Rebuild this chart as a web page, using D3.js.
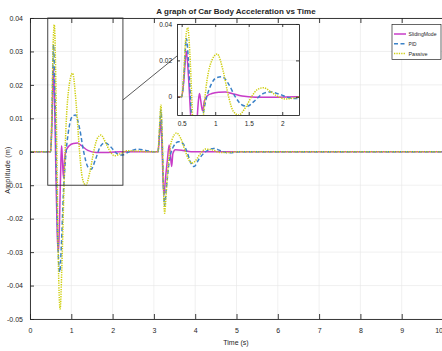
<!DOCTYPE html>
<html><head><meta charset="utf-8">
<script src="https://cdn.jsdelivr.net/npm/d3@7"></script>
<style>
html,body{margin:0;padding:0;background:#fff;overflow:hidden}
text{font-family:"Liberation Sans Narrow","Liberation Sans",Arial,sans-serif;fill:#262626}
</style></head><body>
<svg id="c" width="442" height="351"></svg>
<script>
// ---------- data ----------
const seriesNames = ["SlidingMode", "PID", "Passive"];
const xTicks = [0,1,2,3,4,5,6,7,8,9,10];
const yTicks = [0.04,0.03,0.02,0.01,0,-0.01,-0.02,-0.03,-0.04,-0.05];
const yTickLabels = ["0.04","0.03","0.02","0.01","0","-0.01","-0.02","-0.03","-0.04","-0.05"];
const insetXTicks = [0.5,1,1.5,2];
const insetXLabels = ["0.5","1","1.5","2"];
const insetYTicks = [0,0.02,0.04];
const insetYLabels = ["0","0.02","0.04"];

const slidingT = [0,0.5,0.53,0.57,0.6,0.63,0.66,0.69,0.72,0.75,0.765,0.78,0.81,0.84,0.88,0.95,1.05,1.15,1.25,1.4,1.6,1.9,2.2,3.1,3.13,3.17,3.2,3.24,3.28,3.33,3.37,3.4,3.43,3.46,3.52,3.7,3.9,10];
const slidingV = [0,0,0.008,0.025,0.012,-0.008,-0.025,-0.030,-0.018,-0.002,0.0018,-0.001,-0.0077,-0.002,0.0005,0.0018,0.0025,0.0026,0.0018,0.0004,-0.0002,-0.0002,0,0,0.004,0.0095,0.0,-0.013,-0.008,-0.002,0.002,-0.001,-0.0044,-0.0005,0.0006,0.0004,0,0];

const pidT = [0,0.5,0.53,0.57,0.6,0.63,0.67,0.72,0.76,0.81,0.86,0.93,1.02,1.1,1.2,1.3,1.4,1.48,1.58,1.7,1.82,1.95,2.1,2.22,2.4,2.6,2.8,3.0,3.1,3.13,3.17,3.2,3.23,3.26,3.3,3.37,3.47,3.6,3.7,3.8,3.9,3.97,4.1,4.25,4.45,4.6,4.8,5.1,10];
const pidV = [0,0,0.01,0.032,0.02,0.0,-0.025,-0.036,-0.028,-0.012,-0.002,0.006,0.0105,0.011,0.007,0.0,-0.0045,-0.0052,-0.0025,0.0015,0.0027,0.0015,-0.0005,-0.001,0.0,0.0008,0.0004,0.0,0,0.005,0.0125,0.004,-0.010,-0.016,-0.011,-0.003,0.0015,0.003,0.0025,0.0,-0.0035,-0.0044,-0.002,0.0,0.001,0.0004,-0.0003,0,0];

const passiveT = [0,0.5,0.53,0.56,0.59,0.62,0.65,0.69,0.73,0.77,0.82,0.86,0.93,1.03,1.12,1.2,1.27,1.35,1.45,1.55,1.63,1.72,1.82,1.92,2.05,2.2,2.35,2.6,2.9,3.1,3.13,3.17,3.2,3.23,3.26,3.3,3.36,3.45,3.55,3.65,3.75,3.85,3.92,4.0,4.1,4.25,4.4,4.6,4.8,5.0,10];
const passiveV = [0,0,0.012,0.032,0.038,0.025,0.0,-0.035,-0.047,-0.035,-0.012,0.004,0.018,0.0235,0.014,0.0,-0.008,-0.010,-0.006,0.0005,0.004,0.005,0.003,0.0005,-0.0012,-0.0005,0.0003,0.0002,0,0,0.006,0.014,0.005,-0.010,-0.0184,-0.012,-0.002,0.004,0.0056,0.004,0.0005,-0.0025,-0.0034,-0.0028,-0.001,0.0008,0.0006,-0.0002,-0.0002,0,0];

const series = [
  {name:"SlidingMode", t:slidingT, v:slidingV, color:"#C83CC8", dash:null, w:1.5},
  {name:"PID", t:pidT, v:pidV, color:"#3B82C8", dash:"4,2.5", w:1.5},
  {name:"Passive", t:passiveT, v:passiveV, color:"#CFCF10", dash:"1.3,1.1", w:1.5}
];

// ---------- main axes ----------
const svg = d3.select("#c");
const M = {l:30, r:443, t:18, b:319};
const x = d3.scaleLinear().domain([0,10]).range([M.l,M.r]);
const y = d3.scaleLinear().domain([-0.05,0.04]).range([M.b,M.t]);
const axisCol = "#262626", gridCol = "#e6e6e6";

svg.append("defs").append("clipPath").attr("id","mclip")
  .append("rect").attr("x",M.l).attr("y",M.t).attr("width",M.r-M.l).attr("height",M.b-M.t);

const g = svg.append("g");
g.selectAll(".vg").data(xTicks).join("line")
  .attr("x1",d=>x(d)).attr("x2",d=>x(d)).attr("y1",M.t).attr("y2",M.b)
  .attr("stroke",gridCol).attr("stroke-width",0.6);
g.selectAll(".hg").data(yTicks).join("line")
  .attr("y1",d=>y(d)).attr("y2",d=>y(d)).attr("x1",M.l).attr("x2",M.r)
  .attr("stroke",gridCol).attr("stroke-width",0.6);

const line = (xs,ys)=>d3.line().x(d=>xs(d[0])).y(d=>ys(d[1])).curve(d3.curveMonotoneX);

const lines = svg.append("g").attr("clip-path","url(#mclip)");
series.forEach(s=>{
  const pts = s.t.map((t,i)=>[t,s.v[i]]);
  lines.append("path").datum(pts).attr("d",line(x,y))
    .attr("fill","none").attr("stroke",s.color).attr("stroke-width",s.w)
    .attr("stroke-dasharray",s.dash).attr("stroke-linejoin","round");
});

// axes box + ticks (inside)
const ax = svg.append("g");
const bottomAxis = d3.axisBottom(x).tickValues(xTicks).tickSize(-5).tickPadding(9).tickFormat(d3.format("d"));
const topAxis = d3.axisTop(x).tickValues(xTicks).tickSize(-5).tickFormat("");
const leftAxis = d3.axisLeft(y).tickValues(yTicks).tickSize(-4).tickPadding(7).tickFormat((d,i)=>yTickLabels[i]);
function styleAxis(sel){
  sel.select(".domain").attr("stroke",axisCol).attr("stroke-width",0.9);
  sel.selectAll(".tick line").attr("stroke",axisCol).attr("stroke-width",0.9);
  sel.selectAll(".tick text").attr("fill",axisCol).style("font-size","7px");
}
const bAx = ax.append("g").attr("transform",`translate(0,${M.b})`).call(bottomAxis).call(styleAxis);
// last label sits at the window edge: keep it inside
bAx.selectAll(".tick text").filter(d=>d===10).attr("text-anchor","end").attr("dx","-0.5");
ax.append("g").attr("transform",`translate(0,${M.t})`).call(topAxis).call(styleAxis);
ax.append("g").attr("transform",`translate(${M.l},0)`).call(leftAxis).call(styleAxis);

// titles
svg.append("text").attr("x",236).attr("y",14).attr("text-anchor","middle")
  .style("font-size","8px").style("font-weight","bold").text("A graph of Car Body Acceleration vs Time");
svg.append("text").attr("x",236).attr("y",345).attr("text-anchor","middle")
  .style("font-size","7px").text("Time (s)");
svg.append("text").attr("transform","translate(10,170) rotate(-90)").attr("text-anchor","middle")
  .style("font-size","7px").style("letter-spacing","0.3px").text("Amplitude (m)");

// zoom rectangle and connector
const zx0 = 0.43, zx1 = 2.25, zy0 = -0.01, zy1 = 0.04;
svg.append("rect").attr("x",x(zx0)).attr("y",y(zy1)).attr("width",x(zx1)-x(zx0)).attr("height",y(zy0)-y(zy1))
  .attr("fill","none").attr("stroke","#303030").attr("stroke-width",0.9);

// ---------- inset ----------
const I = {l:177, r:299, t:24, b:115};
const xi = d3.scaleLinear().domain([zx0,zx1]).range([I.l,I.r]);
const yi = d3.scaleLinear().domain([zy0,zy1]).range([I.b,I.t]);
svg.append("line").attr("x1",x(zx1)).attr("y1",y(0.0155)).attr("x2",I.l).attr("y2",56)
  .attr("stroke","#303030").attr("stroke-width",0.8);

svg.append("rect").attr("x",I.l).attr("y",I.t).attr("width",I.r-I.l).attr("height",I.b-I.t).attr("fill","#fff");
svg.select("defs").append("clipPath").attr("id","iclip")
  .append("rect").attr("x",I.l).attr("y",I.t).attr("width",I.r-I.l).attr("height",I.b-I.t);
const ig = svg.append("g");
ig.selectAll(".ivg").data(insetXTicks).join("line")
  .attr("x1",d=>xi(d)).attr("x2",d=>xi(d)).attr("y1",I.t).attr("y2",I.b).attr("stroke",gridCol).attr("stroke-width",0.6);
ig.selectAll(".ihg").data(insetYTicks).join("line")
  .attr("y1",d=>yi(d)).attr("y2",d=>yi(d)).attr("x1",I.l).attr("x2",I.r).attr("stroke",gridCol).attr("stroke-width",0.6);
const il = svg.append("g").attr("clip-path","url(#iclip)");
series.forEach(s=>{
  const pts = s.t.map((t,i)=>[t,s.v[i]]);
  il.append("path").datum(pts).attr("d",line(xi,yi))
    .attr("fill","none").attr("stroke",s.color).attr("stroke-width",s.w)
    .attr("stroke-dasharray",s.dash).attr("stroke-linejoin","round");
});
const iax = svg.append("g");
function styleI(sel){
  sel.select(".domain").attr("stroke",axisCol).attr("stroke-width",0.9);
  sel.selectAll(".tick line").attr("stroke",axisCol).attr("stroke-width",0.9);
  sel.selectAll(".tick text").attr("fill",axisCol).style("font-size","6.5px");
}
iax.append("g").attr("transform",`translate(0,${I.b})`)
  .call(d3.axisBottom(xi).tickValues(insetXTicks).tickSize(-3).tickPadding(6).tickSizeOuter(0).tickFormat((d,i)=>insetXLabels[i])).call(styleI);
iax.append("g").attr("transform",`translate(0,${I.t})`)
  .call(d3.axisTop(xi).tickValues(insetXTicks).tickSize(-3).tickSizeOuter(0).tickFormat("")).call(styleI);
iax.append("g").attr("transform",`translate(${I.l},0)`)
  .call(d3.axisLeft(yi).tickValues(insetYTicks).tickSize(-3).tickPadding(5).tickSizeOuter(0).tickFormat((d,i)=>insetYLabels[i])).call(styleI);
iax.append("g").attr("transform",`translate(${I.r},0)`)
  .call(d3.axisRight(yi).tickValues(insetYTicks).tickSize(-3).tickSizeOuter(0).tickFormat("")).call(styleI);

// ---------- legend ----------
const L = {x:392, y:24.5, w:49, h:35};
const legendTextW = [28, 8, 19];
const lg = svg.append("g");
lg.append("rect").attr("x",L.x).attr("y",L.y).attr("width",L.w).attr("height",L.h)
  .attr("fill","#fff").attr("stroke",axisCol).attr("stroke-width",0.7);
series.forEach((s,i)=>{
  const yy = 34 + i*9.7;
  lg.append("line").attr("x1",394).attr("x2",406).attr("y1",yy).attr("y2",yy)
    .attr("stroke",s.color).attr("stroke-width",s.w).attr("stroke-dasharray",s.dash);
  lg.append("text").attr("x",408.5).attr("y",yy+2.1).style("font-size","6px")
    .attr("textLength",legendTextW[i]).attr("lengthAdjust","spacingAndGlyphs").text(seriesNames[i]);
});
</script></body></html>
